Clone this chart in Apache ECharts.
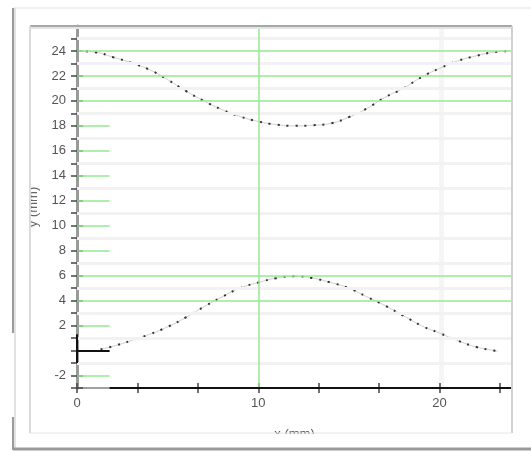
<!DOCTYPE html>
<html>
<head>
<meta charset="utf-8">
<script src="https://cdn.jsdelivr.net/npm/echarts@6/dist/echarts.min.js"></script>
<style>html,body{margin:0;padding:0;background:#fff}#c{width:531px;height:452px}</style>
</head>
<body>
<div id="c"></div>
<script>
// ---- data ----
const upperX = [0,1,2,3,4,5,6,7,8,9,10,11,12,13,14,15,16,17,18,19,20,21,22,23,24];
const upperY = [24,23.9,23.5,23.05,22.5,21.7,20.8,20.0,19.3,18.75,18.35,18.1,18.0,18.05,18.2,18.7,19.4,20.3,21.0,21.9,22.6,23.2,23.6,23.9,24.0];
const lowerX = [1.3,2,3,4,5,6,7,8,9,10,11,12,13,14,15,16,17,18,19,20,21,22,23,23.2];
const lowerY = [0.1,0.35,0.8,1.3,1.9,2.65,3.5,4.3,5.0,5.45,5.8,5.95,5.8,5.45,5.0,4.3,3.6,2.8,2.0,1.4,0.8,0.3,0.0,-0.05];
const fullGridY = [24,22,20,6,4];
const shortGridY = [18,16,14,12,10,8,2,-2];
const faintGridY = [25,23,21,19,17,15,13,11,9,7,5,3,1,-1];
const xMajorLabels = [0,10,20];
const xTitle = 'x (mm)';
const yTitle = 'y (mm)';

const pairs = (xs, ys) => xs.map((x, i) => [x, ys[i]]);
const upper = pairs(upperX, upperY);
const lower = pairs(lowerX, lowerY);

const seg = (x1, y1, x2, y2) => [{coord:[x1,y1]},{coord:[x2,y2]}];
const greenLines = fullGridY.map(v => seg(0, v, 24, v))
  .concat(shortGridY.map(v => seg(0, v, 1.8, v)))
  .concat([seg(10, -3, 10, 26)]);
const faintLines = faintGridY.map(v => seg(0, v, 24, v));
const blackLines = [seg(1.8, -3, 24, -3), seg(0, 0, 1.8, 0), seg(0, 1.3, 0, -1)];

const lineSeries = (lines, style, z) => ({
  type:'line', data:[], silent:true, z:z,
  markLine:{silent:true, symbol:['none','none'], label:{show:false}, animation:false,
    lineStyle:style, emphasis:{disabled:true}, data:lines.map(([a,b]) => [Object.assign({lineStyle:style}, a), b])}
});

const chart = echarts.init(document.getElementById('c'));
const FONT = 'Liberation Sans, Arial, sans-serif';
const labelFont = {color:'#555', fontSize:13, fontFamily:FONT};
const yLabelFmt = v => {
  const r = Math.round(v);
  if (Math.abs(v - r) > 1e-6) return '';
  if (r % 2 !== 0 || r === 0 || r > 24 || r < -2) return '';
  return String(r);
};
const xLabelFmt = v => {
  const m = xMajorLabels.find(t => Math.abs(v - t) < 1e-6);
  return m === undefined ? '' : String(m);
};
chart.setOption({
  animation: false,
  backgroundColor: '#fff',
  grid: {left:77, right:19, top:26, bottom:64},
  xAxis: [{
    type:'value', min:0, max:24, interval:10/3,
    name: xTitle, nameLocation:'middle', nameGap:40,
    nameTextStyle: {color:'#555', fontSize:13, fontFamily:FONT, verticalAlign:'top'},
    axisLine:{show:true, onZero:false, lineStyle:{color:'#a0a0a0', width:2}},
    axisTick:{show:true, length:5, lineStyle:{color:'#444', width:1.5}},
    axisLabel:Object.assign({margin:9, formatter:xLabelFmt}, labelFont),
    splitLine:{show:false}
  },{
    type:'value', min:0, max:24, interval:10/3, position:'bottom',
    axisLine:{show:false, onZero:false},
    axisTick:{show:true, inside:true, length:5, lineStyle:{color:'#444', width:1.5}},
    axisLabel:{show:false}, splitLine:{show:false}
  }],
  yAxis: [{
    type:'value', min:-3, max:26, interval:1,
    name: yTitle, nameLocation:'middle', nameGap:37, nameRotate:90,
    nameTextStyle: {color:'#666', fontSize:13, fontFamily:FONT},
    axisLine:{show:true, onZero:false, lineStyle:{color:'#9a9a9a', width:3}},
    axisTick:{show:true, length:6, lineStyle:{color:'#444', width:1.5}},
    axisLabel:Object.assign({margin:11, formatter:yLabelFmt}, labelFont),
    splitLine:{show:false}
  },{
    type:'value', min:-3, max:26, interval:1, position:'left',
    axisLine:{show:false, onZero:false},
    axisTick:{show:true, inside:true, length:6, lineStyle:{color:'#444', width:1.5}},
    axisLabel:{show:false}, splitLine:{show:false}
  }],
  series: [
    lineSeries(faintLines, {color:'#f2f2f2', width:3, type:'solid'}, 1),
    lineSeries(greenLines, {color:'#96e896', width:1.5, type:'solid'}, 2),
    lineSeries(blackLines, {color:'#111', width:2, type:'solid'}, 6),
    {type:'line', data:upper, smooth:true, showSymbol:false, z:3,
     lineStyle:{color:'#cfcfcf', width:1}},
    {type:'line', data:upper, smooth:true, showSymbol:false, z:4,
     lineStyle:{color:'#333', width:2, type:[2,7]}},
    {type:'line', data:lower, smooth:true, showSymbol:false, z:3,
     lineStyle:{color:'#cfcfcf', width:1}},
    {type:'line', data:lower, smooth:true, showSymbol:false, z:4,
     lineStyle:{color:'#333', width:2, type:[2,7]}}
  ],
  graphic: [
    {type:'line', shape:{x1:13,y1:8,x2:531,y2:8}, style:{stroke:'#f0f0f0', lineWidth:2}, z:10},
    {type:'line', shape:{x1:13,y1:8,x2:13,y2:333}, style:{stroke:'#9a9a9a', lineWidth:2}, z:10},
    {type:'line', shape:{x1:13,y1:417,x2:13,y2:450}, style:{stroke:'#9a9a9a', lineWidth:2}, z:10},
    {type:'line', shape:{x1:15,y1:8,x2:15,y2:450}, style:{stroke:'#e2e2e2', lineWidth:2}, z:10},
    {type:'line', shape:{x1:13,y1:449,x2:531,y2:449}, style:{stroke:'#999', lineWidth:3}, z:10},
    {type:'rect', shape:{x:30,y:434,width:482,height:12}, style:{fill:'#fff'}, z:20},
    {type:'rect', shape:{x:16,y:180,width:13,height:90}, style:{fill:'#fff'}, z:20},
    {type:'line', shape:{x1:30,y1:26,x2:512,y2:26}, style:{stroke:'#a8a8a8', lineWidth:2}, z:21},
    {type:'line', shape:{x1:30,y1:28,x2:512,y2:28}, style:{stroke:'#e4e4e4', lineWidth:2}, z:21},
    {type:'line', shape:{x1:30,y1:26,x2:30,y2:433}, style:{stroke:'#dadada', lineWidth:2}, z:21},
    {type:'line', shape:{x1:512,y1:26,x2:512,y2:433}, style:{stroke:'#d0d0d0', lineWidth:2}, z:21},
    {type:'line', shape:{x1:30,y1:433,x2:512,y2:433}, style:{stroke:'#e6e6e6', lineWidth:1}, z:21},
    {type:'rect', shape:{x:439,y:27,width:5,height:361}, style:{fill:'rgba(0,0,0,0.04)'}, z:0}
  ]
});
</script>
</body>
</html>
